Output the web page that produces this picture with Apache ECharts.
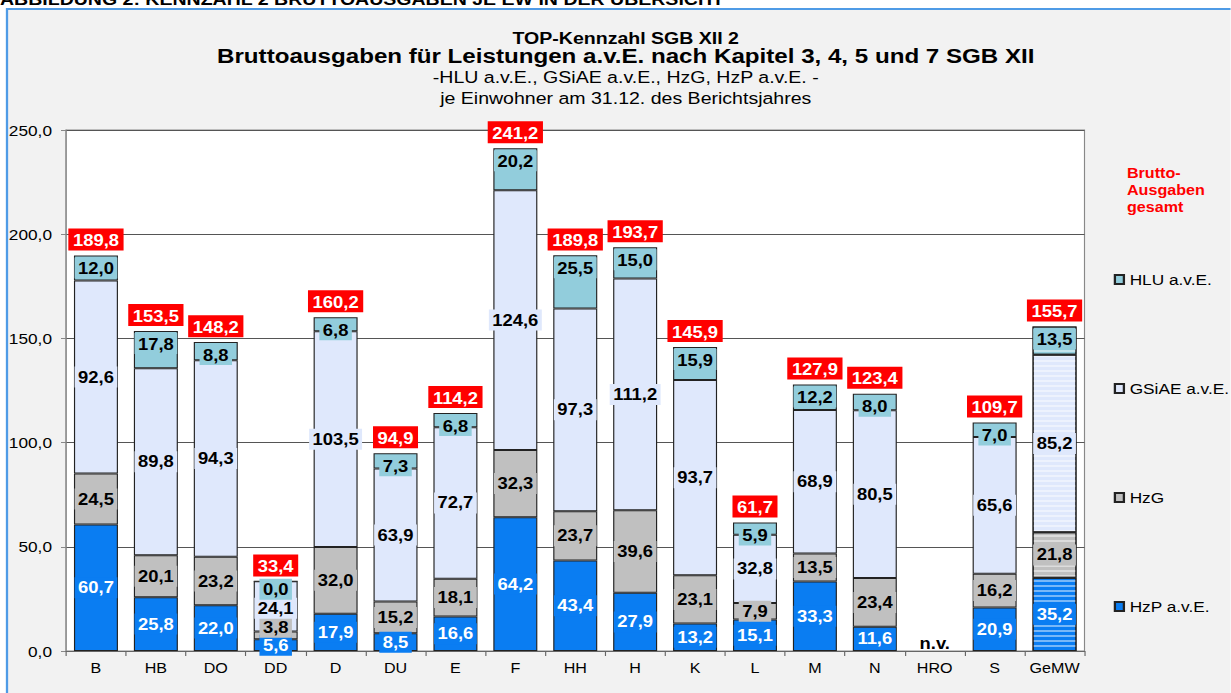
<!DOCTYPE html>
<html>
<head>
<meta charset="utf-8">
<script src="https://cdn.jsdelivr.net/npm/echarts@6/dist/echarts.min.js"></script>
<style>
  html, body { margin: 0; padding: 0; background: #fff; overflow: hidden; }
  /* Excel-Export wirkt horizontal gestreckt: Chart schmaler zeichnen und per CSS strecken */
  #chart { height: 693px; transform-origin: 0 0; }
</style>
</head>
<body>
<div id="chart"></div>
<script>
// Kategorien (Städte) und Werte je Leistungsart, Euro je Einwohner
const categories = ['B', 'HB', 'DO', 'DD', 'D', 'DU', 'E', 'F', 'HH', 'H', 'K', 'L', 'M', 'N', 'HRO', 'S', 'GeMW']
const hzp = [60.7, 25.8, 22.0, 5.6, 17.9, 8.5, 16.6, 64.2, 43.4, 27.9, 13.2, 15.1, 33.3, 11.6, null, 20.9, 35.2]
const hzg = [24.5, 20.1, 23.2, 3.8, 32.0, 15.2, 18.1, 32.3, 23.7, 39.6, 23.1, 7.9, 13.5, 23.4, null, 16.2, 21.8]
const gsiae = [92.6, 89.8, 94.3, 24.1, 103.5, 63.9, 72.7, 124.6, 97.3, 111.2, 93.7, 32.8, 68.9, 80.5, null, 65.6, 85.2]
const hlu = [12.0, 17.8, 8.8, 0.0, 6.8, 7.3, 6.8, 20.2, 25.5, 15.0, 15.9, 5.9, 12.2, 8.0, null, 7.0, 13.5]
const totals = [189.8, 153.5, 148.2, 33.4, 160.2, 94.9, 114.2, 241.2, 189.8, 193.7, 145.9, 61.7, 127.9, 123.4, null, 109.7, 155.7]
const yTicks = [0, 50, 100, 150, 200, 250]

const S = 1.15
const sx = px => px / S
const el = document.getElementById('chart')
el.style.width = sx(1231) + 'px'
el.style.transform = 'scaleX(' + S + ')'

const chart = echarts.init(el, null, { renderer: 'svg' })

const fmt = v => v.toFixed(1).replace('.', ',')
const FONT = 'Liberation Sans, Arial, sans-serif'

// Durchschnitt (GeMW) wird schraffiert dargestellt
const stripes = {
  symbol: 'rect',
  symbolSize: 1,
  dashArrayX: [1, 0],
  dashArrayY: [2, 3],
  rotation: 0,
  color: 'rgba(255,255,255,0.45)'
}

function build(values, extra) {
  return values.map((v, i) => {
    if (v === null) return '-'
    const item = { value: v }
    if (categories[i] === 'GeMW') item.itemStyle = { decal: stripes }
    if (extra && extra[i]) item.label = extra[i]
    return item
  })
}

function seg(name, values, color, labelColor, labelPos, extra) {
  return {
    name: name,
    type: 'bar',
    stack: 'sum',
    barWidth: sx(44),
    barGap: '-100%',
    data: build(values, extra),
    itemStyle: { color: color, borderColor: '#222', borderWidth: 1 },
    label: {
      show: true,
      position: labelPos,
      distance: 2,
      formatter: p => fmt(p.value),
      fontFamily: FONT,
      fontSize: 16,
      fontWeight: 'bold',
      color: labelColor,
      backgroundColor: color,
      padding: [3, 3, 2, 3]
    },
    emphasis: { disabled: true }
  }
}

const C_HZP = '#0a7df2'
const C_HZG = '#c0c0c0'
const C_GSI = '#dfe8fc'
const C_HLU = '#92cddc'

// Dresden: kleine Segmente, Beschriftung wie im Original verschoben
const hzgExtra = { 3: { offset: [0, -8] } }
const gsiExtra = { 3: { offset: [0, 2] } }
const hluExtra = { 3: { offset: [0, -4] } }

const totalData = totals.map(v => v === null
  ? { value: 0, label: { formatter: 'n.v.', color: '#000', backgroundColor: 'transparent', distance: 0, offset: [0, 2] } }
  : { value: v })

chart.setOption({
  backgroundColor: '#ffffff',
  animation: false,
  textStyle: { fontFamily: FONT },
  graphic: [
    {
      type: 'rect', z: -10, silent: true,
      shape: { x: sx(7), y: 9, width: 1100, height: 700 },
      style: { fill: '#f2f2f2', stroke: '#4f9be6', lineWidth: 2 }
    },
    {
      // Abbildungsüberschrift, im Original oben angeschnitten
      type: 'text', z: 10, silent: true,
      style: {
        x: 0, y: 7, text: 'ABBILDUNG 2: KENNZAHL 2 BRUTTOAUSGABEN JE EW IN DER ÜBERSICHT',
        font: 'bold 17px ' + FONT, fill: '#000', verticalAlign: 'bottom'
      }
    },
    {
      type: 'text', z: 10, silent: true,
      style: {
        x: sx(1127), y: 164, text: 'Brutto-\nAusgaben\ngesamt',
        font: 'bold 14px ' + FONT, fill: '#ff0000', lineHeight: 17
      }
    }
  ],
  title: [
    { text: 'TOP-Kennzahl SGB XII 2', left: sx(620), top: 24, textAlign: 'center',
      textStyle: { fontFamily: FONT, fontSize: 17, fontWeight: 'bold', color: '#000' } },
    { text: 'Bruttoausgaben für Leistungen a.v.E. nach Kapitel 3, 4, 5 und 7 SGB XII', left: sx(620), top: 41, textAlign: 'center',
      textStyle: { fontFamily: FONT, fontSize: 21, fontWeight: 'bold', color: '#000' } },
    { text: '-HLU a.v.E., GSiAE a.v.E., HzG, HzP a.v.E. -', left: sx(620), top: 63, textAlign: 'center',
      textStyle: { fontFamily: FONT, fontSize: 17, fontWeight: 'normal', color: '#000' } },
    { text: 'je Einwohner am 31.12. des Berichtsjahres', left: sx(620), top: 84, textAlign: 'center',
      textStyle: { fontFamily: FONT, fontSize: 17, fontWeight: 'normal', color: '#000' } }
  ],
  legend: {
    orient: 'vertical',
    left: sx(1108),
    top: 267,
    itemWidth: sx(9),
    itemHeight: 9,
    itemGap: 94,
    icon: 'rect',
    data: ['HLU a.v.E.', 'GSiAE a.v.E.', 'HzG', 'HzP a.v.E.'],
    textStyle: { fontFamily: FONT, fontSize: 15, color: '#000' },
    selectedMode: false
  },
  grid: {
    left: sx(66), right: sx(146), top: 130, bottom: 42,
    show: true, backgroundColor: '#ffffff', borderColor: '#888', borderWidth: 1
  },
  xAxis: {
    type: 'category',
    data: categories,
    axisLine: { lineStyle: { color: '#666', width: 1 } },
    axisTick: { show: true, length: 5, lineStyle: { color: '#666' } },
    axisLabel: { fontFamily: FONT, fontSize: 14, color: '#000', margin: 10, interval: 0 }
  },
  yAxis: {
    type: 'value',
    min: yTicks[0],
    max: yTicks[yTicks.length - 1],
    interval: yTicks[1] - yTicks[0],
    axisLine: { show: true, lineStyle: { color: '#888' } },
    axisTick: { show: true, length: sx(5), lineStyle: { color: '#888' } },
    axisLabel: { fontFamily: FONT, fontSize: 15, color: '#000', margin: sx(14), formatter: v => fmt(v) },
    splitLine: { lineStyle: { color: '#555', width: 1 } }
  },
  series: [
    seg('HzP a.v.E.', hzp, C_HZP, '#fff', 'inside'),
    seg('HzG', hzg, C_HZG, '#000', 'inside', hzgExtra),
    seg('GSiAE a.v.E.', gsiae, C_GSI, '#000', 'inside', gsiExtra),
    seg('HLU a.v.E.', hlu, C_HLU, '#000', 'insideTop', hluExtra),
    {
      name: 'Brutto-Ausgaben gesamt',
      type: 'bar',
      barWidth: sx(44),
      barGap: '-100%',
      z: 5,
      data: totalData,
      itemStyle: { color: 'transparent', borderWidth: 0 },
      label: {
        show: true,
        position: 'top',
        distance: 5,
        formatter: p => fmt(p.value),
        fontFamily: FONT,
        fontSize: 16,
        fontWeight: 'bold',
        color: '#fff',
        backgroundColor: '#ff0000',
        padding: [4, 4, 2, 4]
      },
      emphasis: { disabled: true },
      silent: true
    }
  ]
})
</script>
</body>
</html>
